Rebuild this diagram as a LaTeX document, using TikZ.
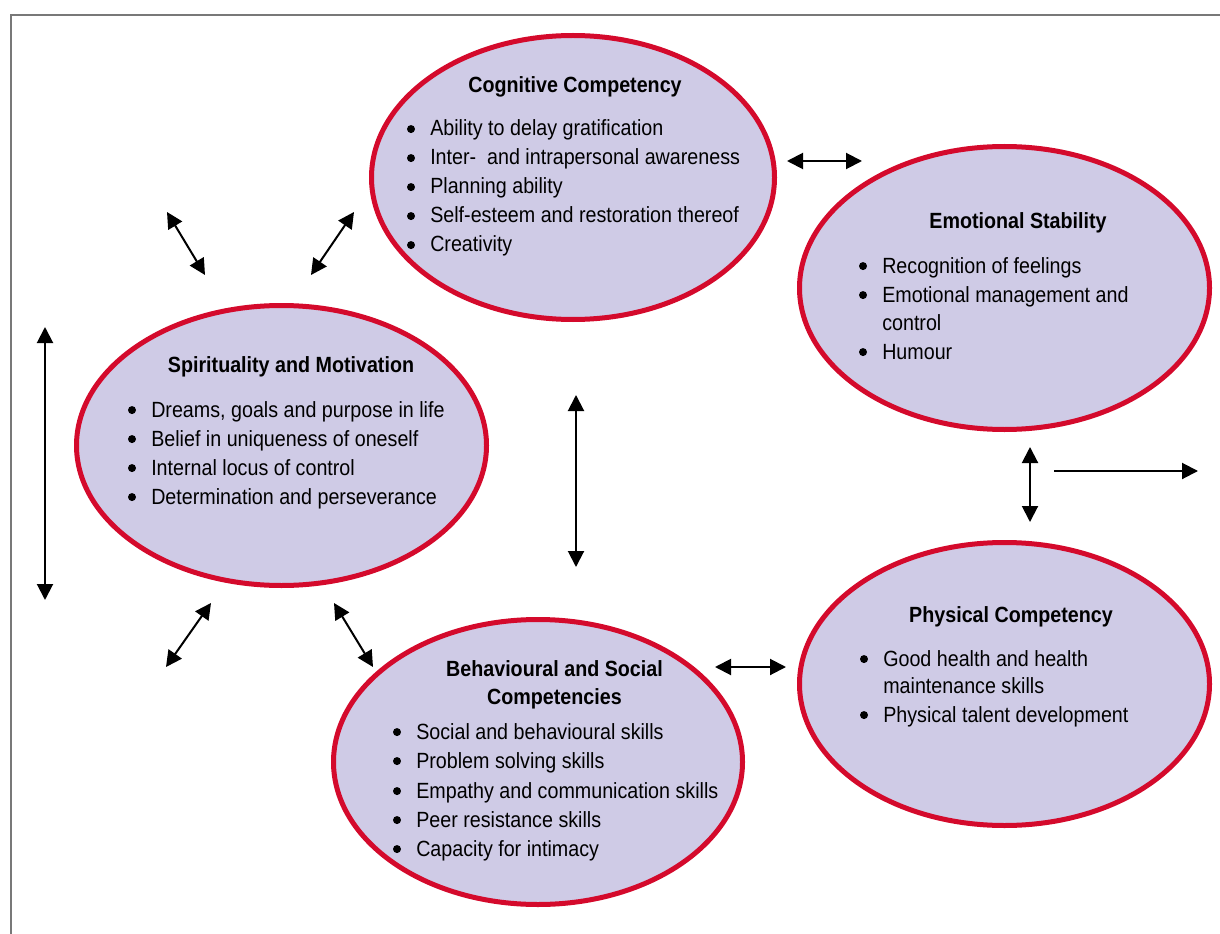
\documentclass[tikz,border=0pt]{standalone}
\usepackage{fontspec}
\setmainfont[FakeStretch=0.895]{Liberation Sans}
\usetikzlibrary{arrows.meta,shapes.geometric}
\definecolor{bubblefill}{RGB}{207,203,230}
\definecolor{bubbleedge}{RGB}{212,10,44}
\definecolor{framegray}{RGB}{120,120,120}
\begin{document}
\begin{tikzpicture}[x=0.75pt,y=-0.75pt,
  bubble/.style={ellipse, draw=bubbleedge, fill=bubblefill, line width=3.75pt, inner sep=0pt},
  heading/.style={font=\fontsize{16.5}{19}\selectfont\bfseries, inner sep=0pt, anchor=base},
  entry/.style={font=\fontsize{16.5}{19}\selectfont, inner sep=0pt, anchor=base west},
  tip/.tip={Triangle[length=12pt,width=12pt]},
  link/.style={line width=1.5pt, tip-tip},
  onelink/.style={line width=1.5pt, -tip}]
\useasboundingbox (0,0) rectangle (1220,934);
\clip (0,0) rectangle (1220,934);
% outer frame (runs past the right and bottom edges)
\draw[framegray, line width=1.2pt] (11,15) rectangle (1240,960);

% the five competency bubbles
\node[bubble, minimum width={403*0.75pt}, minimum height={284*0.75pt}] (cog) at (573,177.5) {};
\node[bubble, minimum width={410*0.75pt}, minimum height={283*0.75pt}] (emo) at (1004.5,288) {};
\node[bubble, minimum width={410*0.75pt}, minimum height={280*0.75pt}] (spi) at (281.5,445.5) {};
\node[bubble, minimum width={410*0.75pt}, minimum height={283*0.75pt}] (phy) at (1004.5,684) {};
\node[bubble, minimum width={409*0.75pt}, minimum height={285*0.75pt}] (beh) at (538,762) {};

% round list mark in front of an entry
\newcommand\listdot[1]{\fill ([xshift=-14.25pt,yshift=5.2pt]#1.base west) circle (3pt);}

% Cognitive Competency
\node[heading] (cogT) at (575,93) {Cognitive Competency};
\node[entry] (cog1) at (430,136) {Ability to delay gratification};
\node[entry] (cog2) at (430,165) {Inter-\ \ and intrapersonal awareness};
\node[entry] (cog3) at (430,194) {Planning ability};
\node[entry] (cog4) at (430,223) {Self-esteem and restoration thereof};
\node[entry] (cog5) at (430,252) {Creativity};
\listdot{cog1}\listdot{cog2}\listdot{cog3}\listdot{cog4}\listdot{cog5}

% Emotional Stability
\node[heading] (emoT) at (1018,229) {Emotional Stability};
\node[entry] (emo1) at (882,273) {Recognition of feelings};
\node[entry] (emo2) at (882,302) {Emotional management and};
\node[entry] (emo3) at (882,330) {control};
\node[entry] (emo4) at (882,359) {Humour};
\listdot{emo1}\listdot{emo2}\listdot{emo4}

% Spirituality and Motivation
\node[heading] (spiT) at (291,372) {Spirituality and Motivation};
\node[entry] (spi1) at (151,417) {Dreams, goals and purpose in life};
\node[entry] (spi2) at (151,446) {Belief in uniqueness of oneself};
\node[entry] (spi3) at (151,475) {Internal locus of control};
\node[entry] (spi4) at (151,504) {Determination and perseverance};
\listdot{spi1}\listdot{spi2}\listdot{spi3}\listdot{spi4}

% Physical Competency
\node[heading] (phyT) at (1011,622) {Physical Competency};
\node[entry] (phy1) at (883,666) {Good health and health};
\node[entry] (phy2) at (883,693) {maintenance skills};
\node[entry] (phy3) at (883,722) {Physical talent development};
\listdot{phy1}\listdot{phy3}

% Behavioural and Social Competencies
\node[heading] (behT1) at (554.5,676) {Behavioural and Social};
\node[heading] (behT2) at (554.5,704) {Competencies};
\node[entry] (beh1) at (416,739) {Social and behavioural skills};
\node[entry] (beh2) at (416,768) {Problem solving skills};
\node[entry] (beh3) at (416,798) {Empathy and communication skills};
\node[entry] (beh4) at (416,827) {Peer resistance skills};
\node[entry] (beh5) at (416,856) {Capacity for intimacy};
\listdot{beh1}\listdot{beh2}\listdot{beh3}\listdot{beh4}\listdot{beh5}

% arrow end points
\coordinate (a1s) at (787,161);  \coordinate (a1e) at (862,161);
\coordinate (a2s) at (167,212);  \coordinate (a2e) at (205,275);
\coordinate (a3s) at (354,212);  \coordinate (a3e) at (311,275);
\coordinate (a4s) at (45,327);   \coordinate (a4e) at (45,600);
\coordinate (a5s) at (576,395);  \coordinate (a5e) at (576,567);
\coordinate (a6s) at (1030,447); \coordinate (a6e) at (1030,522);
\coordinate (a7s) at (1054,471); \coordinate (a7e) at (1198,471);
\coordinate (a8s) at (211,603);  \coordinate (a8e) at (166,667);
\coordinate (a9s) at (334,603);  \coordinate (a9e) at (373,667);
\coordinate (a10s) at (715,667); \coordinate (a10e) at (786,667);

% arrows
\draw[link] (a1s) -- (a1e);
\draw[link] (a2s) -- (a2e);
\draw[link] (a3s) -- (a3e);
\draw[link] (a4s) -- (a4e);
\draw[link] (a5s) -- (a5e);
\draw[link] (a6s) -- (a6e);
\draw[onelink] (a7s) -- (a7e);
\draw[link] (a8s) -- (a8e);
\draw[link] (a9s) -- (a9e);
\draw[link] (a10s) -- (a10e);
\end{tikzpicture}
\end{document}
